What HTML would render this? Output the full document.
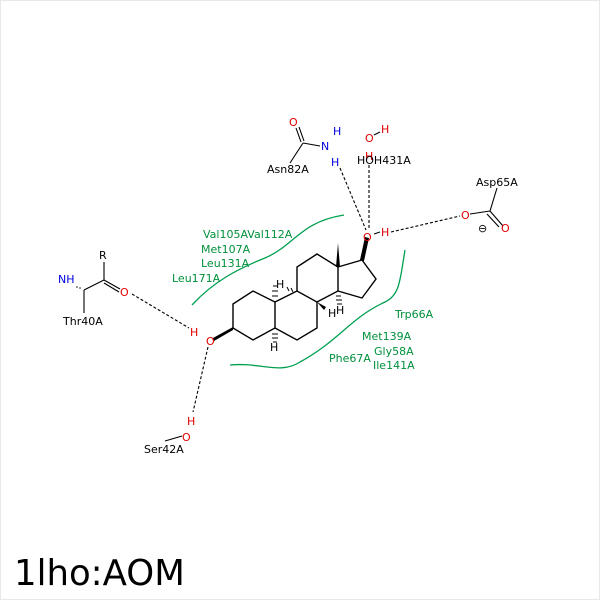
<!DOCTYPE html>
<html><head><style>
html,body{margin:0;padding:0;background:#fff;}
svg{display:block;}
text{font-family:"DejaVu Sans","Liberation Sans",sans-serif;font-size:11px;}
.g{fill:#00903c;} .r{fill:#e00000;} .b{fill:#0000e0;} .k{fill:#000;}
</style></head><body>
<svg width="600" height="600" viewBox="0 0 600 600">
<rect x="0.5" y="0.5" width="599" height="599" fill="#fff" stroke="#e8e8e8"/>
<g fill="none" stroke="#00a050" stroke-width="1.3">
<path d="M192,305 C215,280 240,268 265,258 C295,245 300,222 344,215"/>
<path d="M405,250 C400,280 400,295 385,302 C350,318 340,340 300,362 C280,375 260,362 230,365"/>
</g>
<g fill="none" stroke="#000" stroke-width="1.4">
<polygon points="233,304 253,291 275,302 275,328 253,340 233,328"/>
<polyline points="275,302 297,291 317,302 317,328 297,340 275,328"/>
<polyline points="297,291 297,267 317,254 338,267 338,291 317,302"/>
<polyline points="338,267 362,260 376,279 362,298 338,291"/>
</g>
<polygon points="336,267 340,267 338,243" fill="#000"/>
<polygon points="360,260 364,261 369,238 365,237" fill="#000"/>
<polygon points="233,327 233,330 214,341 213,338" fill="#000"/>
<polygon points="317,302 326,307 324,310" fill="#000"/>
<g stroke="#000" stroke-width="1">
<line x1="272" y1="296" x2="278" y2="296"/><line x1="272" y1="291" x2="278" y2="291"/><line x1="273" y1="286" x2="277" y2="286"/>
<line x1="272" y1="334" x2="278" y2="334"/><line x1="272" y1="338" x2="278" y2="338"/><line x1="273" y1="342" x2="277" y2="342"/>
<line x1="336" y1="296" x2="341" y2="296"/><line x1="336" y1="300" x2="342" y2="300"/><line x1="337" y1="304" x2="342" y2="304"/>
<line x1="291" y1="288" x2="293" y2="292"/><line x1="287" y1="287" x2="289" y2="291"/>
</g>
<text x="276" y="288" class="k">H</text>
<text x="328" y="317" class="k">H</text>
<text x="336" y="314" class="k">H</text>
<text x="270" y="351" class="k">H</text>
<g stroke="#000" stroke-width="1.1" stroke-dasharray="3,2" fill="none">
<line x1="340" y1="168" x2="366" y2="230"/>
<line x1="369" y1="165" x2="369" y2="230"/>
<line x1="391" y1="232" x2="460" y2="216"/>
<line x1="132" y1="294" x2="189" y2="328"/>
<line x1="208" y1="347" x2="193" y2="412"/>
</g>
<text x="363" y="241" class="r">O</text>
<text x="381" y="236" class="r">H</text>
<line x1="374" y1="234" x2="380" y2="232" stroke="#000"/>
<text x="206" y="345" class="r">O</text>
<text x="190" y="336" class="r">H</text>
<g stroke="#000" stroke-width="1.1" fill="none">
<line x1="290" y1="163" x2="303" y2="143"/>
<line x1="303" y1="143" x2="320" y2="146"/>
<line x1="301" y1="142" x2="296" y2="128"/><line x1="304" y1="141" x2="299" y2="127"/>
</g>
<text x="289" y="126" class="r">O</text>
<text x="321" y="150" class="b">N</text>
<text x="333" y="135" class="b">H</text>
<text x="331" y="166" class="b">H</text>
<text x="267" y="173" class="k">Asn82A</text>
<text x="365" y="142" class="r">O</text>
<text x="381" y="133" class="r">H</text>
<line x1="374" y1="135" x2="380" y2="132" stroke="#000"/>
<text x="365" y="160" class="r">H</text>
<text x="357" y="164" class="k">HOH431A</text>
<g stroke="#000" stroke-width="1.1" fill="none">
<line x1="497" y1="188" x2="490" y2="211"/>
<line x1="490" y1="211" x2="470" y2="214"/>
<line x1="490" y1="211" x2="503" y2="226"/><line x1="487" y1="214" x2="499" y2="227"/>
</g>
<text x="476" y="186" class="k">Asp65A</text>
<text x="461" y="219" class="r">O</text>
<text x="501" y="232" class="r">O</text>
<text x="478" y="232" class="k" font-size="12">⊖</text>
<g stroke="#000" stroke-width="1.1" fill="none">
<line x1="84" y1="290" x2="104" y2="280"/>
<line x1="104" y1="280" x2="104" y2="262"/>
<line x1="104" y1="280" x2="120" y2="289"/><line x1="104" y1="283" x2="119" y2="292"/>
<line x1="84" y1="290" x2="84" y2="313"/>
</g>
<g stroke="#000" stroke-width="0.8"><line x1="80" y1="287" x2="80" y2="289"/><line x1="77" y1="286" x2="77" y2="288"/></g>
<text x="99" y="259" class="k">R</text>
<text x="120" y="296" class="r">O</text>
<text x="58" y="283" class="b">NH</text>
<text x="63" y="325" class="k">Thr40A</text>
<line x1="165" y1="441" x2="182" y2="436" stroke="#000" stroke-width="1.1"/>
<text x="182" y="441" class="r">O</text>
<text x="187" y="425" class="r">H</text>
<text x="144" y="453" class="k">Ser42A</text>
<text x="203" y="238" class="g">Val105AVal112A</text>
<text x="201" y="253" class="g">Met107A</text>
<text x="201" y="267" class="g">Leu131A</text>
<text x="172" y="282" class="g">Leu171A</text>
<text x="395" y="318" class="g">Trp66A</text>
<text x="362" y="340" class="g">Met139A</text>
<text x="374" y="355" class="g">Gly58A</text>
<text x="329" y="362" class="g">Phe67A</text>
<text x="373" y="369" class="g">Ile141A</text>
<text x="14" y="585" style="font-size:35.5px" class="k">1lho:AOM</text>
</svg>
</body></html>
